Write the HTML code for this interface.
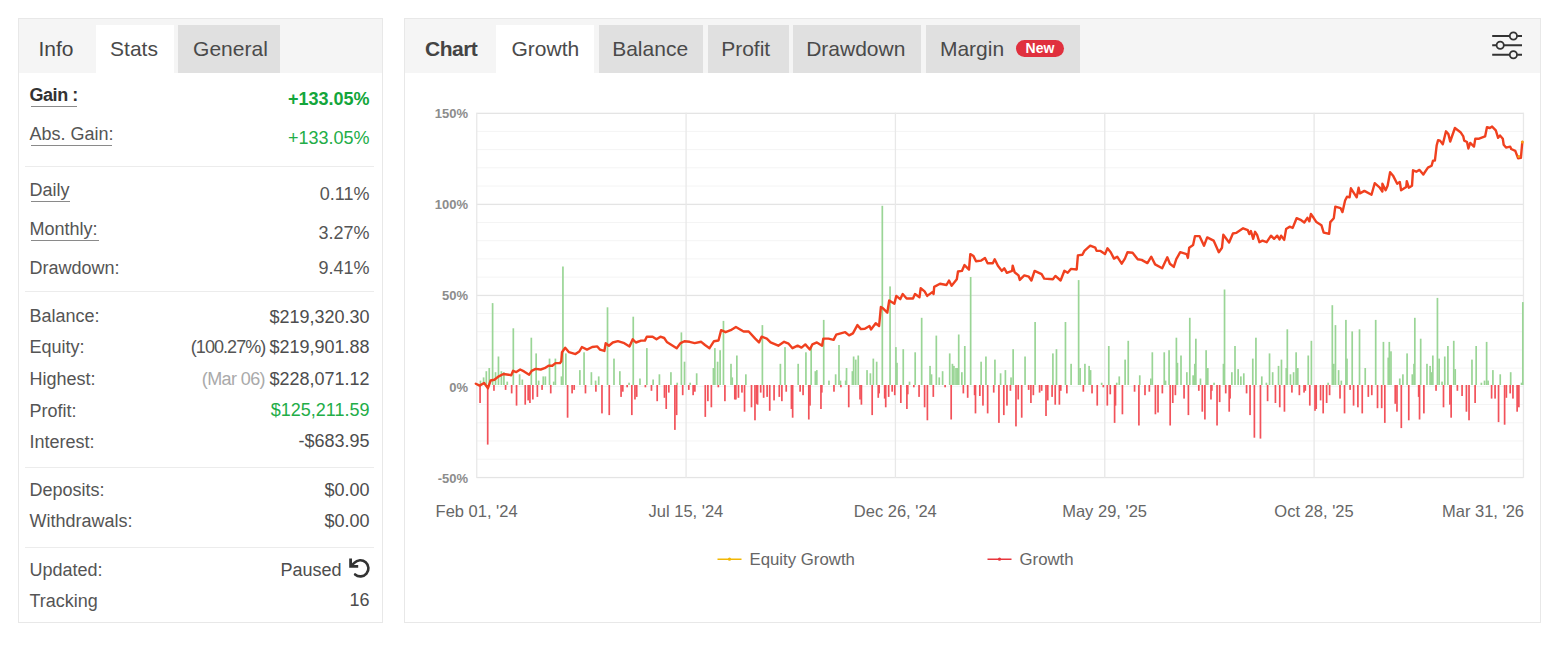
<!DOCTYPE html>
<html><head><meta charset="utf-8">
<style>
html,body{margin:0;padding:0;background:#fff;width:1555px;height:645px;overflow:hidden;font-family:"Liberation Sans",sans-serif;}
.a{position:absolute;}
.t{position:absolute;white-space:nowrap;line-height:20px;font-size:17px;color:#555;}
.r{text-align:right;}
.panel{position:absolute;border:1px solid #e8e8e8;box-sizing:border-box;background:#fff;}
.bar{position:absolute;background:#f5f5f5;}
.tab{position:absolute;top:25px;height:48px;}
.w{background:#fff;}
.g{background:#e0e0e0;}
.tt{position:absolute;white-space:nowrap;font-size:21px;line-height:24px;color:#4a4a4a;}
.div{position:absolute;height:1px;background:#ececec;}
.u{border-bottom:1px solid #9a9a9a;}
.grn{color:#16a83e;}
</style></head><body>
<!-- LEFT PANEL -->
<div class="panel" style="left:18px;top:18px;width:365px;height:605px;"></div>
<div class="bar" style="left:19px;top:19px;width:363px;height:54px;"></div>
<div class="tab w" style="left:96px;width:78px;"></div>
<div class="tab g" style="left:178px;width:102px;"></div>
<div class="tt" style="left:38.4px;top:36.7px;color:#444;">Info</div>
<div class="tt" style="left:110.1px;top:36.7px;">Stats</div>
<div class="tt" style="left:193.1px;top:36.7px;">General</div>


<!-- CHART PANEL -->
<div class="panel" style="left:404px;top:18px;width:1137px;height:605px;"></div>
<div class="bar" style="left:405px;top:19px;width:1135px;height:54px;"></div>
<div class="tab w" style="left:496px;width:98px;"></div>
<div class="tab g" style="left:599px;width:104px;"></div>
<div class="tab g" style="left:708px;width:81px;"></div>
<div class="tab g" style="left:793px;width:128px;"></div>
<div class="tab g" style="left:926px;width:154px;"></div>
<div class="tt" style="left:425px;top:36.7px;font-weight:bold;color:#444;letter-spacing:-0.5px;">Chart</div>
<div class="tt" style="left:511.5px;top:36.7px;">Growth</div>
<div class="tt" style="left:612.2px;top:36.7px;">Balance</div>
<div class="tt" style="left:721.2px;top:36.7px;">Profit</div>
<div class="tt" style="left:806.2px;top:36.7px;">Drawdown</div>
<div class="tt" style="left:939.9px;top:36.7px;">Margin</div>
<div class="a" style="left:1016px;top:40px;width:48px;height:17px;border-radius:9px;background:#e0303e;color:#fff;font-weight:bold;font-size:14px;line-height:17px;text-align:center;">New</div>
<div class="t" style="left:29.50px;top:83.86px;font-size:18px;line-height:22px;color:#333;font-weight:bold;"><span style="letter-spacing:-0.45px">Gain :</span></div>
<div class="t" style="left:29.50px;top:123.26px;font-size:18px;line-height:22px;color:#555;">Abs. Gain:</div>
<div class="t" style="left:29.50px;top:178.76px;font-size:18px;line-height:22px;color:#555;">Daily</div>
<div class="t" style="left:29.50px;top:218.06px;font-size:18px;line-height:22px;color:#555;">Monthly:</div>
<div class="t" style="left:29.50px;top:256.66px;font-size:18px;line-height:22px;color:#555;">Drawdown:</div>
<div class="t" style="left:29.50px;top:304.86px;font-size:18px;line-height:22px;color:#555;">Balance:</div>
<div class="t" style="left:29.50px;top:335.96px;font-size:18px;line-height:22px;color:#555;">Equity:</div>
<div class="t" style="left:29.50px;top:368.06px;font-size:18px;line-height:22px;color:#555;">Highest:</div>
<div class="t" style="left:29.50px;top:399.76px;font-size:18px;line-height:22px;color:#555;">Profit:</div>
<div class="t" style="left:29.50px;top:430.76px;font-size:18px;line-height:22px;color:#555;">Interest:</div>
<div class="t" style="left:29.50px;top:478.96px;font-size:18px;line-height:22px;color:#555;">Deposits:</div>
<div class="t" style="left:29.50px;top:510.46px;font-size:18px;line-height:22px;color:#555;">Withdrawals:</div>
<div class="t" style="left:29.50px;top:558.96px;font-size:18px;line-height:22px;color:#555;">Updated:</div>
<div class="t" style="left:29.50px;top:589.66px;font-size:18px;line-height:22px;color:#555;">Tracking</div>
<div class="a" style="left:30.5px;top:106.2px;width:46.5px;height:1px;background:#8a8a8a;"></div>
<div class="a" style="left:30.5px;top:145.2px;width:81.5px;height:1px;background:#8a8a8a;"></div>
<div class="a" style="left:30.5px;top:201.1px;width:39.5px;height:1px;background:#8a8a8a;"></div>
<div class="a" style="left:30.5px;top:240.2px;width:68.5px;height:1px;background:#8a8a8a;"></div>
<div class="a" style="left:25px;top:166.2px;width:349px;height:1px;background:#ececec;"></div>
<div class="a" style="left:25px;top:291.3px;width:349px;height:1px;background:#ececec;"></div>
<div class="a" style="left:25px;top:466.7px;width:349px;height:1px;background:#ececec;"></div>
<div class="a" style="left:25px;top:546.7px;width:349px;height:1px;background:#ececec;"></div>
<div class="t" style="right:1185.50px;top:88.16px;font-size:18px;line-height:22px;color:#13a63b;font-weight:bold;">+133.05%</div>
<div class="t" style="right:1185.50px;top:126.96px;font-size:18px;line-height:22px;color:#22ad47;">+133.05%</div>
<div class="t" style="right:1185.50px;top:182.66px;font-size:18px;line-height:22px;color:#555;">0.11%</div>
<div class="t" style="right:1185.50px;top:222.36px;font-size:18px;line-height:22px;color:#555;">3.27%</div>
<div class="t" style="right:1185.50px;top:257.26px;font-size:18px;line-height:22px;color:#555;">9.41%</div>
<div class="t" style="right:1185.50px;top:305.56px;font-size:18px;line-height:22px;color:#4d4d4d;">$219,320.30</div>
<div class="t" style="right:1185.50px;top:336.06px;font-size:18px;line-height:22px;color:#4d4d4d;"><span style="color:#555;letter-spacing:-0.95px">(100.27%) </span>$219,901.88</div>
<div class="t" style="right:1185.50px;top:367.56px;font-size:18px;line-height:22px;color:#4d4d4d;"><span style="color:#aaa;letter-spacing:-0.6px">(Mar 06) </span>$228,071.12</div>
<div class="t" style="right:1185.50px;top:399.26px;font-size:18px;line-height:22px;color:#22ad47;">$125,211.59</div>
<div class="t" style="right:1185.50px;top:430.26px;font-size:18px;line-height:22px;color:#4d4d4d;">-$683.95</div>
<div class="t" style="right:1185.50px;top:478.76px;font-size:18px;line-height:22px;color:#4d4d4d;">$0.00</div>
<div class="t" style="right:1185.50px;top:510.46px;font-size:18px;line-height:22px;color:#4d4d4d;">$0.00</div>
<div class="t" style="right:1185.50px;top:588.76px;font-size:18px;line-height:22px;color:#4d4d4d;">16</div>
<div class="t" style="right:1213.50px;top:558.56px;font-size:18px;line-height:22px;color:#4d4d4d;">Paused</div>
<svg class="a" style="left:340px;top:550px;" width="40" height="40" viewBox="340 550 40 40"><path d="M351.6,565.4 L354.3,562.9 A8.1,8.1 0 1 1 355.1,574.5" fill="none" stroke="#333" stroke-width="2.6" stroke-linecap="round"/><path d="M350.6,558.6 V566.4 H358.2" fill="none" stroke="#333" stroke-width="2.8" stroke-linecap="butt" stroke-linejoin="miter"/></svg>
<svg class="a" style="left:0;top:0;" width="1555" height="645" viewBox="0 0 1555 645">
<rect x="476.6" y="130.91" width="1046.7" height="1" fill="#f4f4f4"/><rect x="476.6" y="149.12" width="1046.7" height="1" fill="#f4f4f4"/><rect x="476.6" y="167.33" width="1046.7" height="1" fill="#f4f4f4"/><rect x="476.6" y="185.54" width="1046.7" height="1" fill="#f4f4f4"/><rect x="476.6" y="221.96" width="1046.7" height="1" fill="#f4f4f4"/><rect x="476.6" y="240.17" width="1046.7" height="1" fill="#f4f4f4"/><rect x="476.6" y="258.38" width="1046.7" height="1" fill="#f4f4f4"/><rect x="476.6" y="276.59" width="1046.7" height="1" fill="#f4f4f4"/><rect x="476.6" y="313.01" width="1046.7" height="1" fill="#f4f4f4"/><rect x="476.6" y="331.22" width="1046.7" height="1" fill="#f4f4f4"/><rect x="476.6" y="349.43" width="1046.7" height="1" fill="#f4f4f4"/><rect x="476.6" y="367.64" width="1046.7" height="1" fill="#f4f4f4"/><rect x="476.6" y="404.06" width="1046.7" height="1" fill="#f4f4f4"/><rect x="476.6" y="422.27" width="1046.7" height="1" fill="#f4f4f4"/><rect x="476.6" y="440.48" width="1046.7" height="1" fill="#f4f4f4"/><rect x="476.6" y="458.69" width="1046.7" height="1" fill="#f4f4f4"/><rect x="476.6" y="112.70" width="1046.7" height="1.3" fill="#e4e4e4"/><rect x="476.6" y="203.75" width="1046.7" height="1.3" fill="#e4e4e4"/><rect x="476.6" y="294.80" width="1046.7" height="1.3" fill="#e4e4e4"/><rect x="476.6" y="385.85" width="1046.7" height="1.3" fill="#f4f4f4"/><rect x="476.6" y="476.90" width="1046.7" height="1.3" fill="#e4e4e4"/><rect x="476.10" y="112.7" width="1.3" height="365.2" fill="#e8e8e8"/><rect x="685.44" y="112.7" width="1.3" height="365.2" fill="#e8e8e8"/><rect x="894.78" y="112.7" width="1.3" height="365.2" fill="#e8e8e8"/><rect x="1104.12" y="112.7" width="1.3" height="365.2" fill="#e8e8e8"/><rect x="1313.46" y="112.7" width="1.3" height="365.2" fill="#e8e8e8"/><rect x="1522.80" y="112.7" width="1.3" height="365.2" fill="#e8e8e8"/>
<rect x="479.61" y="380.6" width="1.7" height="4.4" fill="#9ad596"/><rect x="482.75" y="377.4" width="1.7" height="7.6" fill="#9ad596"/><rect x="485.47" y="371.2" width="1.7" height="13.8" fill="#9ad596"/><rect x="488.40" y="368.0" width="1.7" height="17.0" fill="#9ad596"/><rect x="491.75" y="303.1" width="1.7" height="81.9" fill="#9ad596"/><rect x="494.68" y="372.2" width="1.7" height="12.8" fill="#9ad596"/><rect x="497.61" y="356.5" width="1.7" height="28.5" fill="#9ad596"/><rect x="500.54" y="371.2" width="1.7" height="13.8" fill="#9ad596"/><rect x="503.06" y="372.2" width="1.7" height="12.8" fill="#9ad596"/><rect x="506.40" y="381.6" width="1.7" height="3.4" fill="#9ad596"/><rect x="512.47" y="328.3" width="1.7" height="56.7" fill="#9ad596"/><rect x="518.75" y="374.3" width="1.7" height="10.7" fill="#9ad596"/><rect x="521.47" y="379.5" width="1.7" height="5.5" fill="#9ad596"/><rect x="530.47" y="337.7" width="1.7" height="47.3" fill="#9ad596"/><rect x="535.29" y="353.4" width="1.7" height="31.6" fill="#9ad596"/><rect x="537.80" y="380.6" width="1.7" height="4.4" fill="#9ad596"/><rect x="542.40" y="376.4" width="1.7" height="8.6" fill="#9ad596"/><rect x="544.50" y="376.4" width="1.7" height="8.6" fill="#9ad596"/><rect x="548.68" y="358.6" width="1.7" height="26.4" fill="#9ad596"/><rect x="554.54" y="358.6" width="1.7" height="26.4" fill="#9ad596"/><rect x="552.87" y="381.6" width="1.7" height="3.4" fill="#9ad596"/><rect x="560.61" y="376.4" width="1.7" height="8.6" fill="#9ad596"/><rect x="562.08" y="266.5" width="1.7" height="118.5" fill="#9ad596"/><rect x="565.01" y="353.4" width="1.7" height="31.6" fill="#9ad596"/><rect x="579.03" y="370.1" width="1.7" height="14.9" fill="#9ad596"/><rect x="583.21" y="352.3" width="1.7" height="32.7" fill="#9ad596"/><rect x="590.54" y="372.2" width="1.7" height="12.8" fill="#9ad596"/><rect x="594.73" y="380.6" width="1.7" height="4.4" fill="#9ad596"/><rect x="597.86" y="376.4" width="1.7" height="8.6" fill="#9ad596"/><rect x="606.66" y="307.3" width="1.7" height="77.7" fill="#9ad596"/><rect x="613.14" y="358.6" width="1.7" height="26.4" fill="#9ad596"/><rect x="619.00" y="371.2" width="1.7" height="13.8" fill="#9ad596"/><rect x="628.21" y="382.7" width="1.7" height="2.3" fill="#9ad596"/><rect x="632.40" y="316.7" width="1.7" height="68.3" fill="#9ad596"/><rect x="639.10" y="378.5" width="1.7" height="6.5" fill="#9ad596"/><rect x="646.00" y="348.1" width="1.7" height="36.9" fill="#9ad596"/><rect x="652.28" y="379.5" width="1.7" height="5.5" fill="#9ad596"/><rect x="658.56" y="374.3" width="1.7" height="10.7" fill="#9ad596"/><rect x="670.07" y="372.2" width="1.7" height="12.8" fill="#9ad596"/><rect x="676.35" y="382.7" width="1.7" height="2.3" fill="#9ad596"/><rect x="680.54" y="332.4" width="1.7" height="52.6" fill="#9ad596"/><rect x="683.67" y="361.7" width="1.7" height="23.3" fill="#9ad596"/><rect x="689.33" y="382.7" width="1.7" height="2.3" fill="#9ad596"/><rect x="695.82" y="373.3" width="1.7" height="11.7" fill="#9ad596"/><rect x="712.57" y="368.0" width="1.7" height="17.0" fill="#9ad596"/><rect x="714.03" y="348.1" width="1.7" height="36.9" fill="#9ad596"/><rect x="716.75" y="361.7" width="1.7" height="23.3" fill="#9ad596"/><rect x="719.27" y="350.2" width="1.7" height="34.8" fill="#9ad596"/><rect x="722.61" y="320.9" width="1.7" height="64.1" fill="#9ad596"/><rect x="730.15" y="363.8" width="1.7" height="21.2" fill="#9ad596"/><rect x="731.40" y="377.4" width="1.7" height="7.6" fill="#9ad596"/><rect x="736.01" y="355.5" width="1.7" height="29.5" fill="#9ad596"/><rect x="745.01" y="374.3" width="1.7" height="10.7" fill="#9ad596"/><rect x="761.54" y="325.1" width="1.7" height="59.9" fill="#9ad596"/><rect x="779.54" y="363.8" width="1.7" height="21.2" fill="#9ad596"/><rect x="784.15" y="347.1" width="1.7" height="37.9" fill="#9ad596"/><rect x="797.33" y="363.8" width="1.7" height="21.2" fill="#9ad596"/><rect x="805.08" y="352.3" width="1.7" height="32.7" fill="#9ad596"/><rect x="810.31" y="347.1" width="1.7" height="37.9" fill="#9ad596"/><rect x="814.49" y="371.2" width="1.7" height="13.8" fill="#9ad596"/><rect x="815.96" y="370.1" width="1.7" height="14.9" fill="#9ad596"/><rect x="822.86" y="319.9" width="1.7" height="65.1" fill="#9ad596"/><rect x="828.10" y="380.6" width="1.7" height="4.4" fill="#9ad596"/><rect x="834.79" y="374.3" width="1.7" height="10.7" fill="#9ad596"/><rect x="838.14" y="345.0" width="1.7" height="40.0" fill="#9ad596"/><rect x="839.61" y="380.6" width="1.7" height="4.4" fill="#9ad596"/><rect x="844.84" y="380.6" width="1.7" height="4.4" fill="#9ad596"/><rect x="845.68" y="368.0" width="1.7" height="17.0" fill="#9ad596"/><rect x="851.54" y="371.2" width="1.7" height="13.8" fill="#9ad596"/><rect x="852.79" y="356.5" width="1.7" height="28.5" fill="#9ad596"/><rect x="854.89" y="359.6" width="1.7" height="25.4" fill="#9ad596"/><rect x="857.40" y="355.5" width="1.7" height="29.5" fill="#9ad596"/><rect x="866.19" y="370.1" width="1.7" height="14.9" fill="#9ad596"/><rect x="869.54" y="373.3" width="1.7" height="11.7" fill="#9ad596"/><rect x="872.47" y="358.6" width="1.7" height="26.4" fill="#9ad596"/><rect x="875.82" y="361.7" width="1.7" height="23.3" fill="#9ad596"/><rect x="881.47" y="205.8" width="1.7" height="179.2" fill="#9ad596"/><rect x="889.21" y="286.4" width="1.7" height="98.6" fill="#9ad596"/><rect x="895.07" y="347.1" width="1.7" height="37.9" fill="#9ad596"/><rect x="896.12" y="362.8" width="1.7" height="22.2" fill="#9ad596"/><rect x="902.40" y="349.2" width="1.7" height="35.8" fill="#9ad596"/><rect x="908.67" y="381.6" width="1.7" height="3.4" fill="#9ad596"/><rect x="914.33" y="352.3" width="1.7" height="32.7" fill="#9ad596"/><rect x="920.82" y="317.8" width="1.7" height="67.2" fill="#9ad596"/><rect x="929.20" y="365.9" width="1.7" height="19.1" fill="#9ad596"/><rect x="930.66" y="374.3" width="1.7" height="10.7" fill="#9ad596"/><rect x="935.47" y="335.6" width="1.7" height="49.4" fill="#9ad596"/><rect x="938.40" y="377.4" width="1.7" height="7.6" fill="#9ad596"/><rect x="941.75" y="371.2" width="1.7" height="13.8" fill="#9ad596"/><rect x="948.87" y="353.4" width="1.7" height="31.6" fill="#9ad596"/><rect x="951.59" y="363.8" width="1.7" height="21.2" fill="#9ad596"/><rect x="953.06" y="365.9" width="1.7" height="19.1" fill="#9ad596"/><rect x="955.15" y="368.0" width="1.7" height="17.0" fill="#9ad596"/><rect x="956.40" y="368.0" width="1.7" height="17.0" fill="#9ad596"/><rect x="957.87" y="334.5" width="1.7" height="50.5" fill="#9ad596"/><rect x="961.01" y="372.2" width="1.7" height="12.8" fill="#9ad596"/><rect x="963.94" y="346.0" width="1.7" height="39.0" fill="#9ad596"/><rect x="969.80" y="277.0" width="1.7" height="108.0" fill="#9ad596"/><rect x="980.26" y="361.7" width="1.7" height="23.3" fill="#9ad596"/><rect x="985.08" y="356.5" width="1.7" height="28.5" fill="#9ad596"/><rect x="994.08" y="359.6" width="1.7" height="25.4" fill="#9ad596"/><rect x="999.73" y="373.3" width="1.7" height="11.7" fill="#9ad596"/><rect x="1004.54" y="370.1" width="1.7" height="14.9" fill="#9ad596"/><rect x="1010.19" y="377.4" width="1.7" height="7.6" fill="#9ad596"/><rect x="1012.29" y="349.2" width="1.7" height="35.8" fill="#9ad596"/><rect x="1024.21" y="356.5" width="1.7" height="28.5" fill="#9ad596"/><rect x="1034.26" y="322.0" width="1.7" height="63.0" fill="#9ad596"/><rect x="1052.05" y="353.4" width="1.7" height="31.6" fill="#9ad596"/><rect x="1055.61" y="349.2" width="1.7" height="35.8" fill="#9ad596"/><rect x="1064.61" y="322.0" width="1.7" height="63.0" fill="#9ad596"/><rect x="1070.26" y="363.8" width="1.7" height="21.2" fill="#9ad596"/><rect x="1077.79" y="280.1" width="1.7" height="104.9" fill="#9ad596"/><rect x="1079.26" y="368.0" width="1.7" height="17.0" fill="#9ad596"/><rect x="1084.07" y="363.8" width="1.7" height="21.2" fill="#9ad596"/><rect x="1088.26" y="365.9" width="1.7" height="19.1" fill="#9ad596"/><rect x="1089.72" y="370.1" width="1.7" height="14.9" fill="#9ad596"/><rect x="1100.82" y="382.7" width="1.7" height="2.3" fill="#9ad596"/><rect x="1107.93" y="346.0" width="1.7" height="39.0" fill="#9ad596"/><rect x="1115.89" y="382.7" width="1.7" height="2.3" fill="#9ad596"/><rect x="1118.40" y="376.4" width="1.7" height="8.6" fill="#9ad596"/><rect x="1124.26" y="359.6" width="1.7" height="25.4" fill="#9ad596"/><rect x="1127.40" y="340.8" width="1.7" height="44.2" fill="#9ad596"/><rect x="1138.91" y="375.3" width="1.7" height="9.7" fill="#9ad596"/><rect x="1150.01" y="378.5" width="1.7" height="6.5" fill="#9ad596"/><rect x="1151.48" y="352.3" width="1.7" height="32.7" fill="#9ad596"/><rect x="1163.40" y="352.3" width="1.7" height="32.7" fill="#9ad596"/><rect x="1164.66" y="380.6" width="1.7" height="4.4" fill="#9ad596"/><rect x="1168.22" y="350.2" width="1.7" height="34.8" fill="#9ad596"/><rect x="1175.54" y="337.7" width="1.7" height="47.3" fill="#9ad596"/><rect x="1176.59" y="362.8" width="1.7" height="22.2" fill="#9ad596"/><rect x="1180.15" y="355.5" width="1.7" height="29.5" fill="#9ad596"/><rect x="1186.01" y="372.2" width="1.7" height="12.8" fill="#9ad596"/><rect x="1188.94" y="317.8" width="1.7" height="67.2" fill="#9ad596"/><rect x="1192.29" y="375.3" width="1.7" height="9.7" fill="#9ad596"/><rect x="1193.96" y="363.8" width="1.7" height="21.2" fill="#9ad596"/><rect x="1195.01" y="338.7" width="1.7" height="46.3" fill="#9ad596"/><rect x="1199.61" y="378.5" width="1.7" height="6.5" fill="#9ad596"/><rect x="1205.26" y="350.2" width="1.7" height="34.8" fill="#9ad596"/><rect x="1206.94" y="368.0" width="1.7" height="17.0" fill="#9ad596"/><rect x="1213.22" y="382.7" width="1.7" height="2.3" fill="#9ad596"/><rect x="1222.63" y="363.8" width="1.7" height="21.2" fill="#9ad596"/><rect x="1223.68" y="289.5" width="1.7" height="95.5" fill="#9ad596"/><rect x="1231.01" y="372.2" width="1.7" height="12.8" fill="#9ad596"/><rect x="1234.15" y="346.0" width="1.7" height="39.0" fill="#9ad596"/><rect x="1237.29" y="369.1" width="1.7" height="15.9" fill="#9ad596"/><rect x="1240.01" y="376.4" width="1.7" height="8.6" fill="#9ad596"/><rect x="1242.94" y="373.3" width="1.7" height="11.7" fill="#9ad596"/><rect x="1251.94" y="358.6" width="1.7" height="26.4" fill="#9ad596"/><rect x="1255.08" y="337.7" width="1.7" height="47.3" fill="#9ad596"/><rect x="1260.94" y="376.4" width="1.7" height="8.6" fill="#9ad596"/><rect x="1265.54" y="382.7" width="1.7" height="2.3" fill="#9ad596"/><rect x="1268.68" y="353.4" width="1.7" height="31.6" fill="#9ad596"/><rect x="1271.82" y="372.2" width="1.7" height="12.8" fill="#9ad596"/><rect x="1277.68" y="365.9" width="1.7" height="19.1" fill="#9ad596"/><rect x="1280.61" y="359.6" width="1.7" height="25.4" fill="#9ad596"/><rect x="1286.47" y="329.3" width="1.7" height="55.7" fill="#9ad596"/><rect x="1285.42" y="368.0" width="1.7" height="17.0" fill="#9ad596"/><rect x="1289.61" y="374.3" width="1.7" height="10.7" fill="#9ad596"/><rect x="1292.75" y="372.2" width="1.7" height="12.8" fill="#9ad596"/><rect x="1295.26" y="352.3" width="1.7" height="32.7" fill="#9ad596"/><rect x="1296.93" y="368.0" width="1.7" height="17.0" fill="#9ad596"/><rect x="1307.40" y="355.5" width="1.7" height="29.5" fill="#9ad596"/><rect x="1310.54" y="340.8" width="1.7" height="44.2" fill="#9ad596"/><rect x="1327.28" y="382.7" width="1.7" height="2.3" fill="#9ad596"/><rect x="1331.47" y="305.2" width="1.7" height="79.8" fill="#9ad596"/><rect x="1332.93" y="363.8" width="1.7" height="21.2" fill="#9ad596"/><rect x="1334.61" y="325.1" width="1.7" height="59.9" fill="#9ad596"/><rect x="1337.75" y="370.1" width="1.7" height="14.9" fill="#9ad596"/><rect x="1340.47" y="380.6" width="1.7" height="4.4" fill="#9ad596"/><rect x="1345.07" y="319.9" width="1.7" height="65.1" fill="#9ad596"/><rect x="1346.12" y="358.6" width="1.7" height="26.4" fill="#9ad596"/><rect x="1351.35" y="331.4" width="1.7" height="53.6" fill="#9ad596"/><rect x="1358.67" y="329.3" width="1.7" height="55.7" fill="#9ad596"/><rect x="1364.38" y="368.0" width="1.7" height="17.0" fill="#9ad596"/><rect x="1374.85" y="319.9" width="1.7" height="65.1" fill="#9ad596"/><rect x="1382.59" y="341.9" width="1.7" height="43.1" fill="#9ad596"/><rect x="1387.40" y="357.6" width="1.7" height="27.4" fill="#9ad596"/><rect x="1388.45" y="341.9" width="1.7" height="43.1" fill="#9ad596"/><rect x="1390.13" y="351.3" width="1.7" height="33.7" fill="#9ad596"/><rect x="1398.92" y="378.5" width="1.7" height="6.5" fill="#9ad596"/><rect x="1402.05" y="374.3" width="1.7" height="10.7" fill="#9ad596"/><rect x="1406.24" y="353.4" width="1.7" height="31.6" fill="#9ad596"/><rect x="1411.47" y="374.3" width="1.7" height="10.7" fill="#9ad596"/><rect x="1413.15" y="363.8" width="1.7" height="21.2" fill="#9ad596"/><rect x="1413.98" y="317.8" width="1.7" height="67.2" fill="#9ad596"/><rect x="1419.84" y="338.7" width="1.7" height="46.3" fill="#9ad596"/><rect x="1426.12" y="363.8" width="1.7" height="21.2" fill="#9ad596"/><rect x="1429.26" y="365.9" width="1.7" height="19.1" fill="#9ad596"/><rect x="1430.73" y="372.2" width="1.7" height="12.8" fill="#9ad596"/><rect x="1431.98" y="355.5" width="1.7" height="29.5" fill="#9ad596"/><rect x="1436.59" y="297.9" width="1.7" height="87.1" fill="#9ad596"/><rect x="1438.26" y="358.6" width="1.7" height="26.4" fill="#9ad596"/><rect x="1441.19" y="381.6" width="1.7" height="3.4" fill="#9ad596"/><rect x="1443.91" y="356.5" width="1.7" height="28.5" fill="#9ad596"/><rect x="1447.05" y="346.0" width="1.7" height="39.0" fill="#9ad596"/><rect x="1452.91" y="340.8" width="1.7" height="44.2" fill="#9ad596"/><rect x="1454.38" y="369.1" width="1.7" height="15.9" fill="#9ad596"/><rect x="1471.12" y="359.6" width="1.7" height="25.4" fill="#9ad596"/><rect x="1475.31" y="346.0" width="1.7" height="39.0" fill="#9ad596"/><rect x="1480.54" y="382.7" width="1.7" height="2.3" fill="#9ad596"/><rect x="1483.68" y="380.6" width="1.7" height="4.4" fill="#9ad596"/><rect x="1485.77" y="341.9" width="1.7" height="43.1" fill="#9ad596"/><rect x="1487.24" y="380.6" width="1.7" height="4.4" fill="#9ad596"/><rect x="1492.05" y="370.1" width="1.7" height="14.9" fill="#9ad596"/><rect x="1499.38" y="374.3" width="1.7" height="10.7" fill="#9ad596"/><rect x="1509.84" y="372.2" width="1.7" height="12.8" fill="#9ad596"/><rect x="1520.72" y="382.7" width="1.7" height="2.3" fill="#9ad596"/><rect x="1521.98" y="302.1" width="1.7" height="82.9" fill="#9ad596"/><rect x="479.22" y="385.0" width="1.7" height="18.0" fill="#f2525a"/><rect x="486.86" y="385.0" width="1.7" height="59.6" fill="#f2525a"/><rect x="493.11" y="385.0" width="1.7" height="5.8" fill="#f2525a"/><rect x="504.75" y="385.0" width="1.7" height="4.9" fill="#f2525a"/><rect x="510.82" y="385.0" width="1.7" height="8.4" fill="#f2525a"/><rect x="515.69" y="385.0" width="1.7" height="20.6" fill="#f2525a"/><rect x="524.37" y="385.0" width="1.7" height="19.7" fill="#f2525a"/><rect x="527.32" y="385.0" width="1.7" height="15.4" fill="#f2525a"/><rect x="529.06" y="385.0" width="1.7" height="18.0" fill="#f2525a"/><rect x="532.01" y="385.0" width="1.7" height="14.5" fill="#f2525a"/><rect x="536.52" y="385.0" width="1.7" height="11.9" fill="#f2525a"/><rect x="541.21" y="385.0" width="1.7" height="4.9" fill="#f2525a"/><rect x="549.89" y="385.0" width="1.7" height="8.4" fill="#f2525a"/><rect x="566.74" y="385.0" width="1.7" height="32.7" fill="#f2525a"/><rect x="571.25" y="385.0" width="1.7" height="8.4" fill="#f2525a"/><rect x="573.33" y="385.0" width="1.7" height="4.9" fill="#f2525a"/><rect x="584.62" y="385.0" width="1.7" height="8.4" fill="#f2525a"/><rect x="595.04" y="385.0" width="1.7" height="6.7" fill="#f2525a"/><rect x="601.12" y="385.0" width="1.7" height="28.4" fill="#f2525a"/><rect x="608.41" y="385.0" width="1.7" height="30.1" fill="#f2525a"/><rect x="620.22" y="385.0" width="1.7" height="11.9" fill="#f2525a"/><rect x="621.95" y="385.0" width="1.7" height="6.7" fill="#f2525a"/><rect x="626.30" y="385.0" width="1.7" height="2.3" fill="#f2525a"/><rect x="630.98" y="385.0" width="1.7" height="30.1" fill="#f2525a"/><rect x="634.11" y="385.0" width="1.7" height="14.5" fill="#f2525a"/><rect x="635.85" y="385.0" width="1.7" height="11.9" fill="#f2525a"/><rect x="644.53" y="385.0" width="1.7" height="2.3" fill="#f2525a"/><rect x="650.61" y="385.0" width="1.7" height="5.8" fill="#f2525a"/><rect x="656.34" y="385.0" width="1.7" height="16.2" fill="#f2525a"/><rect x="663.63" y="385.0" width="1.7" height="12.8" fill="#f2525a"/><rect x="665.36" y="385.0" width="1.7" height="24.0" fill="#f2525a"/><rect x="667.97" y="385.0" width="1.7" height="7.6" fill="#f2525a"/><rect x="674.05" y="385.0" width="1.7" height="44.9" fill="#f2525a"/><rect x="675.78" y="385.0" width="1.7" height="30.1" fill="#f2525a"/><rect x="681.86" y="385.0" width="1.7" height="10.2" fill="#f2525a"/><rect x="687.94" y="385.0" width="1.7" height="4.9" fill="#f2525a"/><rect x="692.28" y="385.0" width="1.7" height="10.2" fill="#f2525a"/><rect x="694.02" y="385.0" width="1.7" height="6.7" fill="#f2525a"/><rect x="704.43" y="385.0" width="1.7" height="31.9" fill="#f2525a"/><rect x="707.04" y="385.0" width="1.7" height="16.2" fill="#f2525a"/><rect x="710.51" y="385.0" width="1.7" height="22.3" fill="#f2525a"/><rect x="717.46" y="385.0" width="1.7" height="2.3" fill="#f2525a"/><rect x="724.06" y="385.0" width="1.7" height="16.2" fill="#f2525a"/><rect x="733.95" y="385.0" width="1.7" height="14.5" fill="#f2525a"/><rect x="735.02" y="385.0" width="1.7" height="14.5" fill="#f2525a"/><rect x="737.62" y="385.0" width="1.7" height="12.8" fill="#f2525a"/><rect x="741.10" y="385.0" width="1.7" height="7.6" fill="#f2525a"/><rect x="743.70" y="385.0" width="1.7" height="26.7" fill="#f2525a"/><rect x="750.65" y="385.0" width="1.7" height="22.3" fill="#f2525a"/><rect x="754.12" y="385.0" width="1.7" height="35.3" fill="#f2525a"/><rect x="755.86" y="385.0" width="1.7" height="18.8" fill="#f2525a"/><rect x="756.72" y="385.0" width="1.7" height="19.7" fill="#f2525a"/><rect x="759.85" y="385.0" width="1.7" height="7.6" fill="#f2525a"/><rect x="762.80" y="385.0" width="1.7" height="12.8" fill="#f2525a"/><rect x="766.27" y="385.0" width="1.7" height="11.9" fill="#f2525a"/><rect x="768.88" y="385.0" width="1.7" height="25.8" fill="#f2525a"/><rect x="773.22" y="385.0" width="1.7" height="15.4" fill="#f2525a"/><rect x="778.43" y="385.0" width="1.7" height="11.9" fill="#f2525a"/><rect x="781.03" y="385.0" width="1.7" height="16.2" fill="#f2525a"/><rect x="785.37" y="385.0" width="1.7" height="6.7" fill="#f2525a"/><rect x="790.58" y="385.0" width="1.7" height="24.0" fill="#f2525a"/><rect x="791.80" y="385.0" width="1.7" height="32.7" fill="#f2525a"/><rect x="799.27" y="385.0" width="1.7" height="6.7" fill="#f2525a"/><rect x="802.22" y="385.0" width="1.7" height="10.2" fill="#f2525a"/><rect x="807.95" y="385.0" width="1.7" height="34.5" fill="#f2525a"/><rect x="809.16" y="385.0" width="1.7" height="20.6" fill="#f2525a"/><rect x="820.10" y="385.0" width="1.7" height="24.0" fill="#f2525a"/><rect x="820.97" y="385.0" width="1.7" height="7.6" fill="#f2525a"/><rect x="833.13" y="385.0" width="1.7" height="6.7" fill="#f2525a"/><rect x="840.07" y="385.0" width="1.7" height="2.3" fill="#f2525a"/><rect x="847.89" y="385.0" width="1.7" height="22.3" fill="#f2525a"/><rect x="859.17" y="385.0" width="1.7" height="14.5" fill="#f2525a"/><rect x="860.56" y="385.0" width="1.7" height="19.7" fill="#f2525a"/><rect x="871.33" y="385.0" width="1.7" height="30.1" fill="#f2525a"/><rect x="877.40" y="385.0" width="1.7" height="12.8" fill="#f2525a"/><rect x="878.27" y="385.0" width="1.7" height="8.4" fill="#f2525a"/><rect x="883.83" y="385.0" width="1.7" height="13.6" fill="#f2525a"/><rect x="884.87" y="385.0" width="1.7" height="22.3" fill="#f2525a"/><rect x="887.82" y="385.0" width="1.7" height="11.9" fill="#f2525a"/><rect x="891.30" y="385.0" width="1.7" height="6.7" fill="#f2525a"/><rect x="893.90" y="385.0" width="1.7" height="10.2" fill="#f2525a"/><rect x="899.98" y="385.0" width="1.7" height="18.0" fill="#f2525a"/><rect x="906.05" y="385.0" width="1.7" height="24.0" fill="#f2525a"/><rect x="906.92" y="385.0" width="1.7" height="9.3" fill="#f2525a"/><rect x="913.00" y="385.0" width="1.7" height="2.3" fill="#f2525a"/><rect x="918.21" y="385.0" width="1.7" height="11.9" fill="#f2525a"/><rect x="923.77" y="385.0" width="1.7" height="22.3" fill="#f2525a"/><rect x="926.54" y="385.0" width="1.7" height="35.3" fill="#f2525a"/><rect x="932.45" y="385.0" width="1.7" height="11.9" fill="#f2525a"/><rect x="944.26" y="385.0" width="1.7" height="2.3" fill="#f2525a"/><rect x="950.33" y="385.0" width="1.7" height="34.5" fill="#f2525a"/><rect x="962.49" y="385.0" width="1.7" height="8.4" fill="#f2525a"/><rect x="966.83" y="385.0" width="1.7" height="12.8" fill="#f2525a"/><rect x="973.77" y="385.0" width="1.7" height="10.2" fill="#f2525a"/><rect x="974.64" y="385.0" width="1.7" height="28.4" fill="#f2525a"/><rect x="978.98" y="385.0" width="1.7" height="11.0" fill="#f2525a"/><rect x="982.11" y="385.0" width="1.7" height="20.6" fill="#f2525a"/><rect x="986.80" y="385.0" width="1.7" height="28.4" fill="#f2525a"/><rect x="992.88" y="385.0" width="1.7" height="7.6" fill="#f2525a"/><rect x="998.08" y="385.0" width="1.7" height="37.9" fill="#f2525a"/><rect x="1002.97" y="385.0" width="1.7" height="30.1" fill="#f2525a"/><rect x="1006.10" y="385.0" width="1.7" height="20.6" fill="#f2525a"/><rect x="1009.57" y="385.0" width="1.7" height="5.8" fill="#f2525a"/><rect x="1015.12" y="385.0" width="1.7" height="41.4" fill="#f2525a"/><rect x="1017.38" y="385.0" width="1.7" height="14.5" fill="#f2525a"/><rect x="1020.86" y="385.0" width="1.7" height="32.7" fill="#f2525a"/><rect x="1027.80" y="385.0" width="1.7" height="4.9" fill="#f2525a"/><rect x="1030.06" y="385.0" width="1.7" height="18.0" fill="#f2525a"/><rect x="1032.49" y="385.0" width="1.7" height="10.2" fill="#f2525a"/><rect x="1038.74" y="385.0" width="1.7" height="7.6" fill="#f2525a"/><rect x="1040.82" y="385.0" width="1.7" height="5.8" fill="#f2525a"/><rect x="1045.16" y="385.0" width="1.7" height="31.0" fill="#f2525a"/><rect x="1046.90" y="385.0" width="1.7" height="15.4" fill="#f2525a"/><rect x="1051.24" y="385.0" width="1.7" height="11.9" fill="#f2525a"/><rect x="1054.37" y="385.0" width="1.7" height="19.7" fill="#f2525a"/><rect x="1058.54" y="385.0" width="1.7" height="19.7" fill="#f2525a"/><rect x="1059.92" y="385.0" width="1.7" height="5.8" fill="#f2525a"/><rect x="1066.00" y="385.0" width="1.7" height="8.4" fill="#f2525a"/><rect x="1082.50" y="385.0" width="1.7" height="6.7" fill="#f2525a"/><rect x="1091.18" y="385.0" width="1.7" height="8.4" fill="#f2525a"/><rect x="1096.39" y="385.0" width="1.7" height="20.6" fill="#f2525a"/><rect x="1102.47" y="385.0" width="1.7" height="2.3" fill="#f2525a"/><rect x="1106.46" y="385.0" width="1.7" height="20.6" fill="#f2525a"/><rect x="1109.41" y="385.0" width="1.7" height="9.3" fill="#f2525a"/><rect x="1113.75" y="385.0" width="1.7" height="37.9" fill="#f2525a"/><rect x="1114.62" y="385.0" width="1.7" height="20.6" fill="#f2525a"/><rect x="1121.57" y="385.0" width="1.7" height="29.3" fill="#f2525a"/><rect x="1133.72" y="385.0" width="1.7" height="6.7" fill="#f2525a"/><rect x="1138.06" y="385.0" width="1.7" height="40.5" fill="#f2525a"/><rect x="1144.14" y="385.0" width="1.7" height="10.2" fill="#f2525a"/><rect x="1148.48" y="385.0" width="1.7" height="6.7" fill="#f2525a"/><rect x="1154.56" y="385.0" width="1.7" height="29.3" fill="#f2525a"/><rect x="1157.16" y="385.0" width="1.7" height="27.5" fill="#f2525a"/><rect x="1161.50" y="385.0" width="1.7" height="8.4" fill="#f2525a"/><rect x="1169.32" y="385.0" width="1.7" height="40.5" fill="#f2525a"/><rect x="1171.92" y="385.0" width="1.7" height="18.0" fill="#f2525a"/><rect x="1174.53" y="385.0" width="1.7" height="10.2" fill="#f2525a"/><rect x="1183.21" y="385.0" width="1.7" height="13.6" fill="#f2525a"/><rect x="1187.55" y="385.0" width="1.7" height="30.1" fill="#f2525a"/><rect x="1197.97" y="385.0" width="1.7" height="5.8" fill="#f2525a"/><rect x="1201.44" y="385.0" width="1.7" height="26.7" fill="#f2525a"/><rect x="1204.05" y="385.0" width="1.7" height="34.5" fill="#f2525a"/><rect x="1210.12" y="385.0" width="1.7" height="14.5" fill="#f2525a"/><rect x="1210.99" y="385.0" width="1.7" height="5.8" fill="#f2525a"/><rect x="1216.20" y="385.0" width="1.7" height="40.5" fill="#f2525a"/><rect x="1218.81" y="385.0" width="1.7" height="17.1" fill="#f2525a"/><rect x="1224.88" y="385.0" width="1.7" height="8.4" fill="#f2525a"/><rect x="1228.36" y="385.0" width="1.7" height="26.7" fill="#f2525a"/><rect x="1229.22" y="385.0" width="1.7" height="13.6" fill="#f2525a"/><rect x="1245.72" y="385.0" width="1.7" height="8.4" fill="#f2525a"/><rect x="1249.19" y="385.0" width="1.7" height="30.1" fill="#f2525a"/><rect x="1253.53" y="385.0" width="1.7" height="52.7" fill="#f2525a"/><rect x="1259.61" y="385.0" width="1.7" height="53.6" fill="#f2525a"/><rect x="1266.75" y="385.0" width="1.7" height="16.2" fill="#f2525a"/><rect x="1274.57" y="385.0" width="1.7" height="18.0" fill="#f2525a"/><rect x="1278.91" y="385.0" width="1.7" height="22.3" fill="#f2525a"/><rect x="1283.60" y="385.0" width="1.7" height="26.7" fill="#f2525a"/><rect x="1291.06" y="385.0" width="1.7" height="7.6" fill="#f2525a"/><rect x="1298.53" y="385.0" width="1.7" height="10.2" fill="#f2525a"/><rect x="1303.22" y="385.0" width="1.7" height="7.6" fill="#f2525a"/><rect x="1304.43" y="385.0" width="1.7" height="5.8" fill="#f2525a"/><rect x="1308.95" y="385.0" width="1.7" height="20.6" fill="#f2525a"/><rect x="1314.16" y="385.0" width="1.7" height="25.8" fill="#f2525a"/><rect x="1315.37" y="385.0" width="1.7" height="24.0" fill="#f2525a"/><rect x="1319.72" y="385.0" width="1.7" height="15.4" fill="#f2525a"/><rect x="1322.32" y="385.0" width="1.7" height="28.4" fill="#f2525a"/><rect x="1325.79" y="385.0" width="1.7" height="18.0" fill="#f2525a"/><rect x="1328.74" y="385.0" width="1.7" height="10.2" fill="#f2525a"/><rect x="1339.16" y="385.0" width="1.7" height="13.6" fill="#f2525a"/><rect x="1343.68" y="385.0" width="1.7" height="28.4" fill="#f2525a"/><rect x="1349.23" y="385.0" width="1.7" height="4.9" fill="#f2525a"/><rect x="1352.71" y="385.0" width="1.7" height="20.6" fill="#f2525a"/><rect x="1357.05" y="385.0" width="1.7" height="22.3" fill="#f2525a"/><rect x="1361.39" y="385.0" width="1.7" height="28.4" fill="#f2525a"/><rect x="1367.47" y="385.0" width="1.7" height="11.9" fill="#f2525a"/><rect x="1370.94" y="385.0" width="1.7" height="10.2" fill="#f2525a"/><rect x="1376.67" y="385.0" width="1.7" height="23.2" fill="#f2525a"/><rect x="1380.84" y="385.0" width="1.7" height="23.2" fill="#f2525a"/><rect x="1383.96" y="385.0" width="1.7" height="37.9" fill="#f2525a"/><rect x="1394.38" y="385.0" width="1.7" height="18.8" fill="#f2525a"/><rect x="1396.12" y="385.0" width="1.7" height="26.7" fill="#f2525a"/><rect x="1400.46" y="385.0" width="1.7" height="43.1" fill="#f2525a"/><rect x="1407.92" y="385.0" width="1.7" height="35.3" fill="#f2525a"/><rect x="1417.82" y="385.0" width="1.7" height="11.9" fill="#f2525a"/><rect x="1418.69" y="385.0" width="1.7" height="34.5" fill="#f2525a"/><rect x="1423.03" y="385.0" width="1.7" height="28.4" fill="#f2525a"/><rect x="1435.19" y="385.0" width="1.7" height="5.8" fill="#f2525a"/><rect x="1442.65" y="385.0" width="1.7" height="22.3" fill="#f2525a"/><rect x="1449.08" y="385.0" width="1.7" height="19.7" fill="#f2525a"/><rect x="1450.29" y="385.0" width="1.7" height="32.7" fill="#f2525a"/><rect x="1456.54" y="385.0" width="1.7" height="5.8" fill="#f2525a"/><rect x="1461.23" y="385.0" width="1.7" height="11.0" fill="#f2525a"/><rect x="1465.57" y="385.0" width="1.7" height="26.7" fill="#f2525a"/><rect x="1468.18" y="385.0" width="1.7" height="35.3" fill="#f2525a"/><rect x="1474.26" y="385.0" width="1.7" height="18.0" fill="#f2525a"/><rect x="1490.75" y="385.0" width="1.7" height="13.6" fill="#f2525a"/><rect x="1494.22" y="385.0" width="1.7" height="13.6" fill="#f2525a"/><rect x="1497.70" y="385.0" width="1.7" height="37.1" fill="#f2525a"/><rect x="1503.77" y="385.0" width="1.7" height="39.7" fill="#f2525a"/><rect x="1505.51" y="385.0" width="1.7" height="12.8" fill="#f2525a"/><rect x="1509.33" y="385.0" width="1.7" height="8.4" fill="#f2525a"/><rect x="1512.11" y="385.0" width="1.7" height="13.6" fill="#f2525a"/><rect x="1516.28" y="385.0" width="1.7" height="26.7" fill="#f2525a"/><rect x="1518.01" y="385.0" width="1.7" height="22.3" fill="#f2525a"/>
<path d="M475.8,383.7 L479.6,385.6 L484.1,383.0 L488.0,388.2 L490.6,380.5 L494.4,379.8 L498.3,376.6 L503.4,374.0 L508.6,374.7 L511.2,375.3 L513.1,370.8 L516.3,372.1 L520.2,369.5 L524.0,371.4 L529.2,374.7 L531.7,370.8 L535.6,368.9 L540.7,369.5 L544.6,368.2 L548.5,365.7 L552.3,365.7 L555.5,363.1 L560.0,363.1 L561.3,361.2 L562.0,352.2 L565.2,347.7 L569.0,352.2 L575.5,354.1 L579.3,351.5 L581.9,347.0 L587.0,349.6 L592.2,347.0 L597.3,346.4 L599.9,349.6 L604.4,350.9 L605.7,343.2 L608.9,345.7 L612.8,342.5 L617.9,341.2 L624.3,343.2 L629.5,346.4 L632.7,339.3 L635.9,342.5 L641.1,340.6 L644.9,340.6 L646.8,336.7 L652.6,336.7 L656.5,339.3 L660.4,336.7 L664.2,338.0 L666.8,341.9 L676.7,348.2 L680.6,343.1 L684.4,341.2 L689.6,341.8 L694.7,343.1 L701.2,341.8 L705.0,345.0 L709.5,348.2 L714.0,341.2 L718.5,340.5 L721.1,330.2 L725.6,332.2 L730.7,330.2 L735.9,327.0 L743.6,331.5 L748.7,331.5 L755.2,338.6 L759.0,342.4 L761.6,336.7 L766.8,338.6 L770.6,342.4 L778.3,345.7 L784.1,341.8 L788.6,343.7 L792.5,348.2 L797.6,345.7 L801.5,347.6 L805.3,344.4 L809.8,349.5 L812.4,344.4 L816.9,342.4 L822.1,345.7 L823.3,338.6 L828.5,338.6 L833.6,339.9 L836.2,334.7 L845.2,332.2 L849.1,335.4 L852.9,333.4 L857.4,325.1 L860.9,329.1 L864.8,328.8 L869.5,326.0 L871.0,329.5 L875.7,323.3 L879.1,326.0 L880.9,306.9 L882.8,308.2 L887.3,312.7 L889.2,300.5 L894.4,303.7 L896.3,295.9 L900.2,299.2 L902.7,294.0 L906.6,298.5 L913.0,298.5 L915.0,294.0 L919.5,297.2 L920.7,288.2 L924.6,291.4 L927.2,295.9 L932.3,292.1 L933.6,294.0 L934.2,286.9 L940.0,283.7 L946.5,285.0 L949.0,280.5 L951.6,285.7 L956.8,279.2 L958.0,271.5 L961.9,270.9 L964.5,265.1 L969.0,269.6 L970.3,254.1 L973.5,256.1 L976.0,261.2 L981.2,260.6 L985.0,258.0 L987.6,263.2 L992.8,263.2 L994.7,259.3 L997.9,265.7 L1001.8,270.9 L1004.3,268.3 L1006.9,272.8 L1012.1,270.9 L1012.7,265.7 L1014.6,272.2 L1018.5,275.4 L1019.8,279.9 L1024.3,275.4 L1028.8,276.7 L1031.4,280.5 L1034.6,270.9 L1041.6,274.1 L1044.2,278.6 L1052.9,279.2 L1055.4,275.9 L1060.6,280.5 L1064.4,270.8 L1067.7,272.7 L1070.9,268.9 L1076.7,269.5 L1077.9,255.4 L1082.4,254.7 L1084.4,250.9 L1090.2,245.7 L1095.3,247.7 L1096.6,250.9 L1100.5,250.9 L1105.0,254.1 L1107.5,248.3 L1110.7,252.2 L1114.0,258.6 L1117.2,256.7 L1121.7,263.7 L1124.9,258.6 L1127.5,252.2 L1132.6,252.8 L1137.7,259.2 L1141.6,259.9 L1147.4,263.1 L1151.3,256.7 L1155.1,264.4 L1162.2,268.2 L1167.3,257.3 L1169.9,263.7 L1173.8,266.9 L1176.3,259.2 L1180.2,252.2 L1186.6,254.1 L1187.9,257.9 L1189.2,247.7 L1193.1,245.1 L1195.0,236.1 L1199.5,236.1 L1204.0,245.7 L1207.2,237.4 L1213.6,240.6 L1218.8,252.2 L1222.0,247.7 L1223.3,234.8 L1229.1,242.5 L1232.9,233.5 L1236.1,232.9 L1243.1,228.3 L1247.8,230.2 L1249.3,234.1 L1250.9,231.0 L1253.2,238.8 L1255.1,231.8 L1257.1,234.9 L1259.4,242.2 L1262.5,240.7 L1266.7,242.2 L1271.0,235.7 L1274.1,238.8 L1277.2,235.7 L1279.5,239.5 L1281.1,235.7 L1284.2,239.9 L1286.1,229.1 L1289.6,226.7 L1292.7,227.9 L1296.6,218.2 L1301.2,220.2 L1304.3,222.5 L1307.4,217.8 L1309.4,221.3 L1310.9,214.0 L1313.6,217.8 L1316.4,222.1 L1321.4,225.2 L1323.7,232.6 L1329.1,233.7 L1330.3,222.1 L1333.8,218.2 L1335.3,206.6 L1340.6,208.2 L1342.5,212.1 L1345.1,200.5 L1347.0,196.7 L1349.6,197.3 L1350.9,188.3 L1356.7,197.3 L1358.6,187.7 L1359.9,193.4 L1364.4,190.9 L1371.5,194.7 L1374.7,183.2 L1379.8,187.7 L1382.4,191.5 L1382.4,183.8 L1385.6,190.2 L1387.6,185.7 L1390.1,172.2 L1393.3,176.1 L1397.2,183.8 L1399.8,181.9 L1401.1,190.2 L1406.2,187.0 L1406.8,181.2 L1408.8,187.7 L1412.0,185.7 L1413.0,170.3 L1416.3,171.7 L1419.5,169.9 L1423.3,174.5 L1427.9,167.6 L1431.6,165.7 L1433.0,160.6 L1434.9,160.6 L1436.7,145.2 L1438.1,140.1 L1440.0,140.6 L1442.8,144.3 L1446.0,131.3 L1448.4,134.1 L1450.2,141.5 L1454.9,128.0 L1460.5,132.2 L1463.3,136.4 L1464.2,140.6 L1467.0,142.0 L1468.4,148.5 L1470.2,142.9 L1474.0,146.6 L1475.3,138.7 L1479.1,138.7 L1483.7,136.9 L1485.1,136.4 L1487.0,127.1 L1489.8,128.0 L1492.1,126.6 L1495.8,130.3 L1498.1,137.8 L1500.0,135.5 L1502.8,138.7 L1503.7,144.8 L1506.0,147.6 L1510.2,146.6 L1511.2,149.0 L1515.3,150.8 L1518.1,158.3 L1520.9,157.8 L1522.3,142.0" fill="none" stroke="#f0401f" stroke-width="2.4" stroke-linejoin="round" stroke-linecap="round"/>
<circle cx="1518.8" cy="156.5" r="1.4" fill="#f7a21b"/><circle cx="1522.4" cy="142" r="1.5" fill="#f7a21b"/><text x="468" y="118.3" text-anchor="end" font-family="Liberation Sans" font-size="13" font-weight="bold" fill="#8c8c8c">150%</text><text x="468" y="209.3" text-anchor="end" font-family="Liberation Sans" font-size="13" font-weight="bold" fill="#8c8c8c">100%</text><text x="468" y="300.4" text-anchor="end" font-family="Liberation Sans" font-size="13" font-weight="bold" fill="#8c8c8c">50%</text><text x="468" y="391.5" text-anchor="end" font-family="Liberation Sans" font-size="13" font-weight="bold" fill="#8c8c8c">0%</text><text x="468" y="482.5" text-anchor="end" font-family="Liberation Sans" font-size="13" font-weight="bold" fill="#8c8c8c">-50%</text>
<text x="476.6" y="516.9" text-anchor="middle" font-family="Liberation Sans" font-size="16.5" fill="#666">Feb 01, '24</text><text x="685.9" y="516.9" text-anchor="middle" font-family="Liberation Sans" font-size="16.5" fill="#666">Jul 15, '24</text><text x="895.3" y="516.9" text-anchor="middle" font-family="Liberation Sans" font-size="16.5" fill="#666">Dec 26, '24</text><text x="1104.6" y="516.9" text-anchor="middle" font-family="Liberation Sans" font-size="16.5" fill="#666">May 29, '25</text><text x="1314.0" y="516.9" text-anchor="middle" font-family="Liberation Sans" font-size="16.5" fill="#666">Oct 28, '25</text><text x="1524" y="516.9" text-anchor="end" font-family="Liberation Sans" font-size="16.5" fill="#666">Mar 31, '26</text>
<rect x="717.5" y="558.5" width="24" height="1.5" fill="#f2b705"/><circle cx="729.5" cy="559.2" r="1.6" fill="#f2b705"/><text x="749.5" y="565.1" font-family="Liberation Sans" font-size="16.8" fill="#666">Equity Growth</text><rect x="987.5" y="558.5" width="24" height="1.5" fill="#e8363c"/><circle cx="999.5" cy="559.2" r="1.6" fill="#e8363c"/><text x="1019.5" y="565.1" font-family="Liberation Sans" font-size="16.8" fill="#666">Growth</text>
<g fill="none" stroke="#333" stroke-width="2"><path d="M1492.2,36 H1509.6 M1517.2,36 H1522 M1492.2,45.2 H1496.4 M1504,45.2 H1522 M1492.2,54.7 H1509.6 M1517.2,54.7 H1522"/><circle cx="1513.4" cy="36" r="3.6" stroke-width="1.8"/><circle cx="1500.2" cy="45.2" r="3.6" stroke-width="1.8"/><circle cx="1513.4" cy="54.7" r="3.6" stroke-width="1.8"/></g>
</svg>
</body></html>
